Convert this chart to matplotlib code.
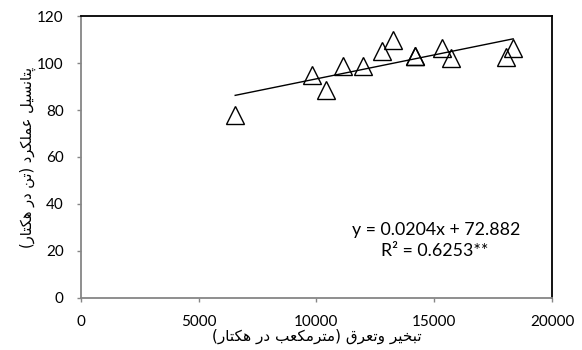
import numpy as np
import matplotlib
matplotlib.use("Agg")
import matplotlib.pyplot as plt

# Data
et_m3_ha = [6550, 9800, 10400, 11130, 11980, 12770, 13230, 14180, 14200, 15330, 15700, 18050, 18350]
yield_t_ha = [78.0, 95.0, 88.4, 98.6, 98.6, 105.0, 110.0, 103.0, 102.8, 106.5, 102.3, 102.6, 106.5]
# drawn trend line (the printed label shows 0.0204, the line itself follows 0.00204)
trend_slope = 0.00204
trend_intercept = 72.882
eq_text = "y = 0.0204x + 72.882"
r2_text = "R² = 0.6253**"
x_ticks = [0, 5000, 10000, 15000, 20000]
y_ticks = [0, 20, 40, 60, 80, 100, 120]

xlabel_fa = "تبخیر وتعرق (مترمکعب در هکتار)"
ylabel_fa = "پتانسیل عملکرد (تن در هکتار)"

# minimal Persian shaping (matplotlib has no complex text layout)
# letter: (isolated, final, initial, medial); None -> only joins to the right
FORMS = {
    'ا': (0xFE8D, 0xFE8E, None, None),
    'ب': (0xFE8F, 0xFE90, 0xFE91, 0xFE92),
    'پ': (0xFB56, 0xFB57, 0xFB58, 0xFB59),
    'ت': (0xFE95, 0xFE96, 0xFE97, 0xFE98),
    'خ': (0xFEA5, 0xFEA6, 0xFEA7, 0xFEA8),
    'د': (0xFEA9, 0xFEAA, None, None),
    'ر': (0xFEAD, 0xFEAE, None, None),
    'س': (0xFEB1, 0xFEB2, 0xFEB3, 0xFEB4),
    'ع': (0xFEC9, 0xFECA, 0xFECB, 0xFECC),
    'ق': (0xFED5, 0xFED6, 0xFED7, 0xFED8),
    'ک': (0xFB8E, 0xFB8F, 0xFB90, 0xFB91),
    'ل': (0xFEDD, 0xFEDE, 0xFEDF, 0xFEE0),
    'م': (0xFEE1, 0xFEE2, 0xFEE3, 0xFEE4),
    'ن': (0xFEE5, 0xFEE6, 0xFEE7, 0xFEE8),
    'ه': (0xFEE9, 0xFEEA, 0xFEEB, 0xFEEC),
    'و': (0xFEED, 0xFEEE, None, None),
    'ی': (0xFBFC, 0xFBFD, 0xFBFE, 0xFBFF),
}


def shape_fa(text):
    out = []
    for i, ch in enumerate(text):
        if ch not in FORMS:
            out.append(ch)
            continue
        f = FORMS[ch]
        prev = text[i - 1] if i > 0 else ''
        nxt = text[i + 1] if i + 1 < len(text) else ''
        join_prev = prev in FORMS and FORMS[prev][2] is not None
        join_next = f[2] is not None and nxt in FORMS
        if join_prev and join_next:
            code = f[3]
        elif join_prev:
            code = f[1]
        elif join_next:
            code = f[2]
        else:
            code = f[0]
        out.append(chr(code))
    vis = ''.join(reversed(out))
    return vis.translate(str.maketrans('()', ')('))


plt.rcParams['font.family'] = ['Lato', 'DejaVu Sans']
plt.rcParams['font.size'] = 11

fig = plt.figure(figsize=(5.82, 3.5), dpi=100)
ax = fig.add_axes([0.139, 0.149, 0.8095, 0.805])

ax.plot(et_m3_ha, yield_t_ha, linestyle='none', marker='^', markersize=13,
        markerfacecolor='none', markeredgecolor='black', markeredgewidth=1.0, zorder=3)

xt = np.array([min(et_m3_ha), max(et_m3_ha)])
ax.plot(xt, trend_slope * xt + trend_intercept, color='black', linewidth=1.0, zorder=2)

ax.text(15075, 29, eq_text, ha='center', va='center', fontsize=12.8)
ax.text(15030, 20, r2_text, ha='center', va='center', fontsize=12.8)

ax.set_xlim(0, 20000)
ax.set_ylim(0, 120)
ax.set_xticks(x_ticks)
ax.set_yticks(y_ticks)

for side in ['top', 'right']:
    ax.spines[side].set_color('black')
    ax.spines[side].set_linewidth(1.3)
for side in ['left', 'bottom']:
    ax.spines[side].set_color('#868686')
    ax.spines[side].set_linewidth(1.3)
ax.tick_params(axis='both', direction='out', length=3, width=1, color='#868686', labelsize=11)
ax.tick_params(axis='x', pad=9)
ax.tick_params(axis='y', pad=9.4)

ax.set_xlabel(shape_fa(xlabel_fa), fontsize=11, family=['DejaVu Sans'], labelpad=0)
ax.set_ylabel(shape_fa(ylabel_fa), fontsize=10.5, family=['DejaVu Sans'], labelpad=1)

fig.savefig('out.png', dpi=100)
